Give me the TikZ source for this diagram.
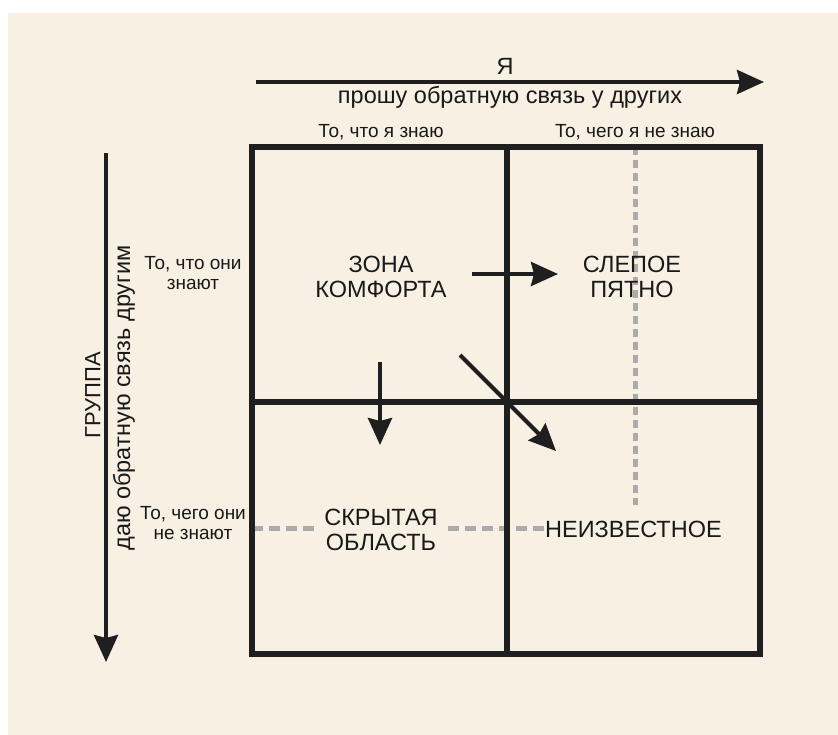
\documentclass[tikz,border=0pt]{standalone}
\usepackage{fontspec}
\setmainfont{Liberation Sans}
\usetikzlibrary{arrows.meta}
\definecolor{paper}{HTML}{F8F0E3}
\definecolor{dashgray}{HTML}{ABABAB}
\begin{document}
\begin{tikzpicture}[x=1pt, y=-1pt, every node/.style={inner sep=0pt, align=center, text=black!90},
    zone/.style={font=\fontsize{23.5}{25}\selectfont},
    small/.style={font=\fontsize{19}{20}\selectfont},
    big/.style={font=\fontsize{23.5}{25}\selectfont},
    grid/.style={line width=5.5pt, black!88},
    move/.style={line width=4pt, black!88, -{Stealth[inset=3pt, length=27pt, width=24pt]}},
    hint/.style={line width=5pt, dashgray, dash pattern=on 11pt off 6pt}]
            \useasboundingbox (0,0) rectangle (838,735);
            \fill[white] (0,0) rectangle (838,735);
            \fill[paper] (8,13) rectangle (838,735);

            % axes
            \coordinate (ystart) at (256,82);
            \coordinate (yend) at (764,82);
            \draw [move] (ystart)--(yend);
            \draw (505,75) node[anchor=base, big] {Я};
            \draw (510,104) node[anchor=base, big] {прошу обратную связь у других};

            \coordinate (gstart) at (106,153);
            \coordinate (gend) at (106,662);
            \draw [move] (gstart)--(gend);
            \draw (93,395) node[font=\fontsize{22}{24}\selectfont, rotate=90] {ГРУППА};
            \draw (124,398) node[big, rotate=90] {даю обратную связь другим};

            \draw (381,138) node[anchor=base, small] {То, что я знаю};
            \draw (635,138) node[anchor=base, small] {То, чего я не знаю};
            \draw (193,273) node[small] {То, что они\\знают};
            \draw (193,523) node[small] {То, чего они\\не знают};

            % hidden lines
            \draw [hint, dash pattern=on 8pt off 5pt] (635,147)--(635,505);
            \draw [hint] (252,528)--(318,528);
            \draw [hint] (448,528)--(545,528);

            % window
            \draw [grid] (252,147) rectangle (760,654);
            \draw [grid] (507,147)--(507,654);
            \draw [grid] (252,402)--(760,402);

            \node[zone] (komfort) at (381,277) {ЗОНА\\КОМФОРТА};
            \node[zone] (pyatno) at (632,277) {СЛЕПОЕ\\ПЯТНО};
            \node[zone] (skryt) at (381,530) {СКРЫТАЯ\\ОБЛАСТЬ};
            \node[zone, anchor=base west] (neizv) at (545,537) {НЕИЗВЕСТНОЕ};

            \coordinate (a1) at (472,274);
            \coordinate (b1) at (558,274);
            \draw [move] (a1)--(b1);
            \coordinate (a2) at (380,362);
            \coordinate (b2) at (380,445);
            \draw [move] (a2)--(b2);
            \coordinate (a3) at (460,355);
            \coordinate (b3) at (556,451);
            \draw [move] (a3)--(b3);
\end{tikzpicture}
\end{document}
